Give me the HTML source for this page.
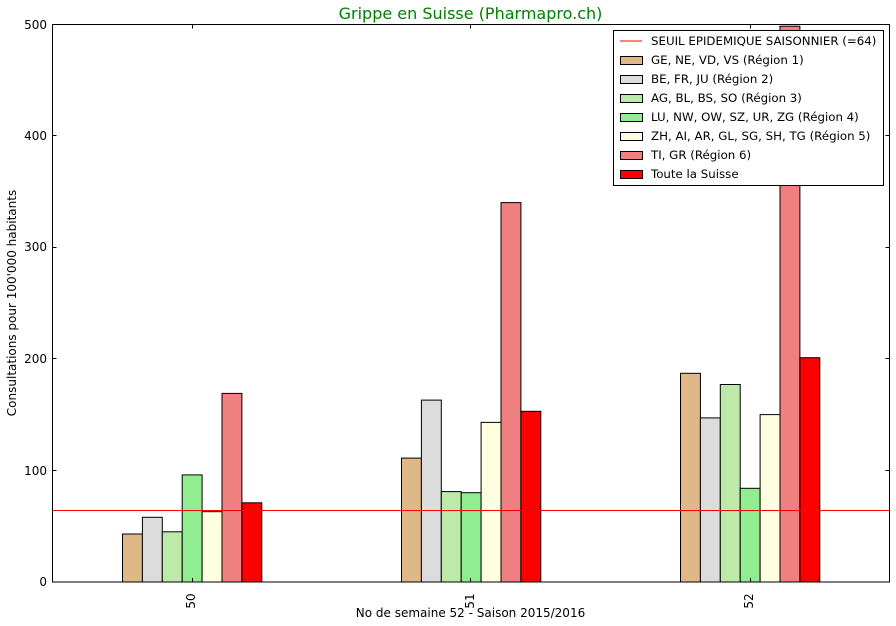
<!DOCTYPE html>
<html><head><meta charset="utf-8"><style>body{margin:0;background:#fff}svg{display:block}</style></head>
<body>
<svg width="896" height="626" xmlns="http://www.w3.org/2000/svg" font-family="DejaVu Sans, sans-serif">
<rect width="896" height="626" fill="#fff"/>
<text x="470.5" y="19" font-size="16" fill="#008000" text-anchor="middle">Grippe en Suisse (Pharmapro.ch)</text>
<g stroke="#000" stroke-width="1">
<rect x="122.5" y="534" width="19.9" height="48" fill="#deb887"/>
<rect x="142.4" y="517.3" width="19.9" height="64.7" fill="#dcdcdc"/>
<rect x="162.3" y="531.8" width="19.9" height="50.2" fill="#bdeaa8"/>
<rect x="182.2" y="474.9" width="19.9" height="107.1" fill="#90ee90"/>
<rect x="202.1" y="511.7" width="19.9" height="70.3" fill="#ffffe0"/>
<rect x="222" y="393.4" width="19.9" height="188.6" fill="#f08080"/>
<rect x="241.9" y="502.8" width="19.9" height="79.2" fill="#ff0000"/>
<rect x="401.5" y="458.1" width="19.9" height="123.9" fill="#deb887"/>
<rect x="421.4" y="400.1" width="19.9" height="181.9" fill="#dcdcdc"/>
<rect x="441.3" y="491.6" width="19.9" height="90.4" fill="#bdeaa8"/>
<rect x="461.2" y="492.7" width="19.9" height="89.3" fill="#90ee90"/>
<rect x="481.1" y="422.4" width="19.9" height="159.6" fill="#ffffe0"/>
<rect x="501" y="202.6" width="19.9" height="379.4" fill="#f08080"/>
<rect x="520.9" y="411.3" width="19.9" height="170.7" fill="#ff0000"/>
<rect x="680.5" y="373.3" width="19.9" height="208.7" fill="#deb887"/>
<rect x="700.4" y="417.9" width="19.9" height="164.1" fill="#dcdcdc"/>
<rect x="720.3" y="384.5" width="19.9" height="197.5" fill="#bdeaa8"/>
<rect x="740.2" y="488.3" width="19.9" height="93.7" fill="#90ee90"/>
<rect x="760.1" y="414.6" width="19.9" height="167.4" fill="#ffffe0"/>
<rect x="780" y="26.2" width="19.9" height="555.8" fill="#f08080"/>
<rect x="799.9" y="357.7" width="19.9" height="224.3" fill="#ff0000"/>
</g>
<line x1="52.5" y1="510.5" x2="889.5" y2="510.5" stroke="#f00" stroke-width="1"/>
<rect x="52.5" y="24.5" width="837" height="557.5" fill="none" stroke="#000" stroke-width="1"/>
<g stroke="#000" stroke-width="1">
<line x1="52.5" y1="470.5" x2="56.5" y2="470.5"/><line x1="889.5" y1="470.5" x2="885.5" y2="470.5"/>
<line x1="52.5" y1="358.5" x2="56.5" y2="358.5"/><line x1="889.5" y1="358.5" x2="885.5" y2="358.5"/>
<line x1="52.5" y1="247.5" x2="56.5" y2="247.5"/><line x1="889.5" y1="247.5" x2="885.5" y2="247.5"/>
<line x1="52.5" y1="135.5" x2="56.5" y2="135.5"/><line x1="889.5" y1="135.5" x2="885.5" y2="135.5"/>
<line x1="192.5" y1="582" x2="192.5" y2="578"/><line x1="192.5" y1="24.5" x2="192.5" y2="28.5"/>
<line x1="470.5" y1="582" x2="470.5" y2="578"/><line x1="470.5" y1="24.5" x2="470.5" y2="28.5"/>
<line x1="750.5" y1="582" x2="750.5" y2="578"/><line x1="750.5" y1="24.5" x2="750.5" y2="28.5"/>
</g>
<g font-size="12" text-anchor="end" fill="#000">
<text x="47" y="586">0</text><text x="47" y="475">100</text><text x="47" y="363">200</text>
<text x="47" y="251">300</text><text x="47" y="140">400</text><text x="47" y="29">500</text>
</g>
<g font-size="12" fill="#000">
<text transform="translate(195,601) rotate(-90)" text-anchor="middle">50</text>
<text transform="translate(474,601) rotate(-90)" text-anchor="middle">51</text>
<text transform="translate(753,601) rotate(-90)" text-anchor="middle">52</text>
</g>
<text x="470.5" y="617" font-size="12" text-anchor="middle">No de semaine 52 - Saison 2015/2016</text>
<text transform="translate(16,303) rotate(-90)" font-size="12" text-anchor="middle">Consultations pour 100'000 habitants</text>
<rect x="613.5" y="30.5" width="270" height="155" fill="#fff" stroke="#000"/>
<line x1="620" y1="41" x2="642" y2="41" stroke="#f00"/>
<g stroke="#000">
<rect x="620.5" y="56.5" width="22" height="8" fill="#deb887"/>
<rect x="620.5" y="75.5" width="22" height="8" fill="#dcdcdc"/>
<rect x="620.5" y="94.5" width="22" height="8" fill="#bdeaa8"/>
<rect x="620.5" y="113.5" width="22" height="8" fill="#90ee90"/>
<rect x="620.5" y="132.5" width="22" height="8" fill="#ffffe0"/>
<rect x="620.5" y="151.5" width="22" height="8" fill="#f08080"/>
<rect x="620.5" y="170.5" width="22" height="8" fill="#ff0000"/>
</g>
<g font-size="11.8" fill="#000">
<text x="651" y="45">SEUIL EPIDEMIQUE SAISONNIER (=64)</text>
<text x="651" y="64">GE, NE, VD, VS (Région 1)</text>
<text x="651" y="83">BE, FR, JU (Région 2)</text>
<text x="651" y="102">AG, BL, BS, SO (Région 3)</text>
<text x="651" y="121">LU, NW, OW, SZ, UR, ZG (Région 4)</text>
<text x="651" y="140">ZH, AI, AR, GL, SG, SH, TG (Région 5)</text>
<text x="651" y="159">TI, GR (Région 6)</text>
<text x="651" y="178">Toute la Suisse</text>
</g>
</svg>
</body></html>
